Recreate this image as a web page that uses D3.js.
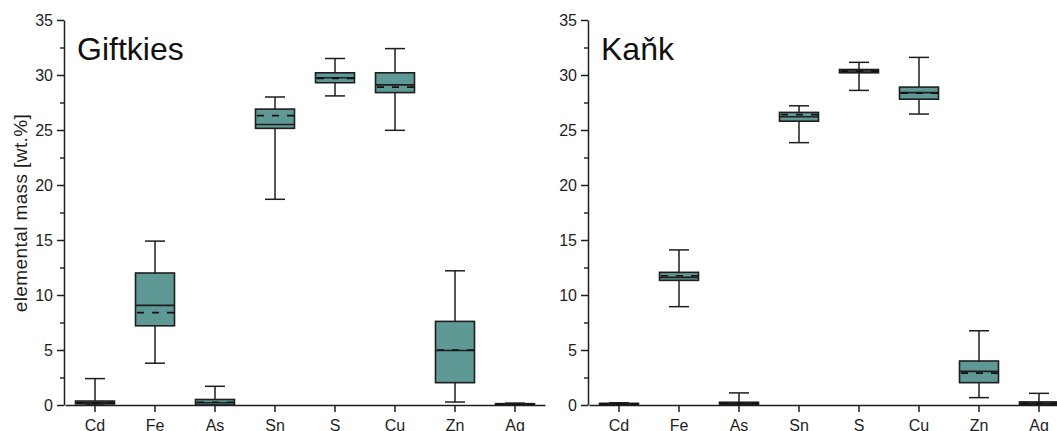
<!DOCTYPE html>
<html>
<head>
<meta charset="utf-8">
<script src="https://cdn.jsdelivr.net/npm/d3@7"></script>
<style>
  body { margin: 0; background: #fff; }
  svg { display: block; font-family: "Liberation Sans", Arial, sans-serif; }
</style>
</head>
<body>
<div id="chart"></div>
<script>
const FRAME_WIDTH = 1057;
const FRAME_HEIGHT = 431;

const ELEMENTS = ["Cd", "Fe", "As", "Sn", "S", "Cu", "Zn", "Ag"];
const Y_TICKS = [0, 5, 10, 15, 20, 25, 30, 35];
const Y_MINOR = [2.5, 7.5, 12.5, 17.5, 22.5, 27.5, 32.5];

// Giftkies box statistics, wt.%
const GIFT_MIN = [0.0, 3.8, 0.0, 18.7, 28.1, 24.97, 0.27, 0.0];
const GIFT_Q1 = [0.1, 7.2, 0.0, 25.15, 29.3, 28.4, 2.03, 0.03];
const GIFT_MEDIAN = [0.2, 9.06, 0.2, 25.5, 29.75, 29.1, 4.95, 0.07];
const GIFT_Q3 = [0.36, 12.0, 0.5, 26.9, 30.2, 30.2, 7.6, 0.12];
const GIFT_MAX = [2.4, 14.9, 1.7, 28.0, 31.5, 32.4, 12.2, 0.17];
const GIFT_MEAN = [0.2, 8.4, 0.25, 26.3, 29.7, 28.9, 5.0, 0.07];

// Kaňk box statistics, wt.%
const KANK_MIN = [0.02, 8.94, 0.0, 23.85, 28.6, 26.45, 0.67, 0.0];
const KANK_Q1 = [0.05, 11.33, 0.05, 25.8, 30.2, 27.8, 2.03, 0.05];
const KANK_MEDIAN = [0.1, 11.6, 0.15, 26.2, 30.36, 28.4, 3.06, 0.15];
const KANK_Q3 = [0.15, 12.06, 0.25, 26.6, 30.5, 28.9, 4.0, 0.28];
const KANK_MAX = [0.2, 14.1, 1.1, 27.2, 31.15, 31.6, 6.75, 1.06];
const KANK_MEAN = [0.1, 11.75, 0.15, 26.4, 30.36, 28.35, 2.9, 0.15];

const BOX_FILL = "#5f9995";
const INK = "#1e1e1e";

const svg = d3.select("#chart")
  .append("svg")
  .attr("width", FRAME_WIDTH)
  .attr("height", FRAME_HEIGHT);

const Y_SCALE = d3.scaleLinear()
  .domain([0, 35])
  .range([405, 20]);

// y axis label (left panel only)
svg.append("text")
  .attr("transform", "translate(27," + 213 + ") rotate(-90)")
  .attr("text-anchor", "middle")
  .attr("font-size", "19px")
  .attr("letter-spacing", "0.4px")
  .attr("fill", INK)
  .text("elemental mass [wt.%]");

function drawPanel(left, title, mins, q1s, medians, q3s, maxs, means) {
  const X_SCALE = d3.scaleBand()
    .domain(ELEMENTS)
    .range([left + 1, left + 481]);

  const g = svg.append("g");

  const rows = ELEMENTS.map((d, i) => ({
    name: d, min: mins[i], q1: q1s[i], median: medians[i],
    q3: q3s[i], max: maxs[i], mean: means[i]
  }));

  const boxW = 39;
  const capW = 20;

  const box = g.selectAll(".box")
    .data(rows)
    .enter()
    .append("g")
    .attr("transform", (d) => "translate(" + (X_SCALE(d.name) + X_SCALE.bandwidth() / 2) + ",0)");

  // whiskers
  box.append("line")
    .attr("x1", 0).attr("x2", 0)
    .attr("y1", (d) => Y_SCALE(d.max))
    .attr("y2", (d) => Y_SCALE(d.q3))
    .attr("stroke", INK).attr("stroke-width", 1.5);
  box.append("line")
    .attr("x1", 0).attr("x2", 0)
    .attr("y1", (d) => Y_SCALE(d.q1))
    .attr("y2", (d) => Y_SCALE(d.min))
    .attr("stroke", INK).attr("stroke-width", 1.5);
  box.append("line")
    .attr("x1", -capW / 2).attr("x2", capW / 2)
    .attr("y1", (d) => Y_SCALE(d.max))
    .attr("y2", (d) => Y_SCALE(d.max))
    .attr("stroke", INK).attr("stroke-width", 1.5);
  box.append("line")
    .attr("x1", -capW / 2).attr("x2", capW / 2)
    .attr("y1", (d) => Y_SCALE(d.min))
    .attr("y2", (d) => Y_SCALE(d.min))
    .attr("stroke", INK).attr("stroke-width", 1.5);

  // boxes
  box.append("rect")
    .attr("x", -boxW / 2)
    .attr("width", boxW)
    .attr("y", (d) => Y_SCALE(d.q3))
    .attr("height", (d) => Y_SCALE(d.q1) - Y_SCALE(d.q3))
    .attr("fill", BOX_FILL)
    .attr("stroke", INK)
    .attr("stroke-width", 1.6);

  // median
  box.append("line")
    .attr("x1", -boxW / 2).attr("x2", boxW / 2)
    .attr("y1", (d) => Y_SCALE(d.median))
    .attr("y2", (d) => Y_SCALE(d.median))
    .attr("stroke", INK).attr("stroke-width", 1.6);

  // mean, dashed
  box.append("line")
    .attr("x1", -boxW / 2 + 1.5).attr("x2", boxW / 2)
    .attr("y1", (d) => Y_SCALE(d.mean))
    .attr("y2", (d) => Y_SCALE(d.mean))
    .attr("stroke", "#111").attr("stroke-width", 1.7)
    .attr("stroke-dasharray", "7,8");

  // x axis
  g.append("g")
    .attr("transform", "translate(0,405)")
    .call(d3.axisBottom(X_SCALE).tickSize(7).tickSizeOuter(0).tickPadding(8))
    .call((a) => a.selectAll("text").attr("font-size", "16px").attr("fill", INK)
      .attr("font-family", "Liberation Sans, Arial, sans-serif"))
    .call((a) => a.selectAll("line, path").attr("stroke", INK).attr("stroke-width", 1.5));

  // y axis, major and minor ticks
  g.append("g")
    .attr("transform", "translate(" + left + ",0)")
    .call(d3.axisLeft(Y_SCALE).tickValues(Y_MINOR).tickSize(4).tickSizeOuter(0).tickFormat(""))
    .call((a) => a.select("path").remove())
    .call((a) => a.selectAll("line").attr("stroke", INK).attr("stroke-width", 1.4));

  g.append("g")
    .attr("transform", "translate(" + left + ",0)")
    .call(d3.axisLeft(Y_SCALE).tickValues(Y_TICKS).tickSize(7).tickSizeOuter(0).tickPadding(4))
    .call((a) => a.selectAll("text").attr("font-size", "16px").attr("fill", INK)
      .attr("font-family", "Liberation Sans, Arial, sans-serif"))
    .call((a) => a.selectAll("line, path").attr("stroke", INK).attr("stroke-width", 1.5));

  // panel title
  g.append("text")
    .attr("x", left + 13)
    .attr("y", 60)
    .attr("font-size", "32px")
    .attr("fill", "#111")
    .text(title);
}

drawPanel(64, "Giftkies", GIFT_MIN, GIFT_Q1, GIFT_MEDIAN, GIFT_Q3, GIFT_MAX, GIFT_MEAN);
drawPanel(588, "Kaňk", KANK_MIN, KANK_Q1, KANK_MEDIAN, KANK_Q3, KANK_MAX, KANK_MEAN);
</script>
</body>
</html>
